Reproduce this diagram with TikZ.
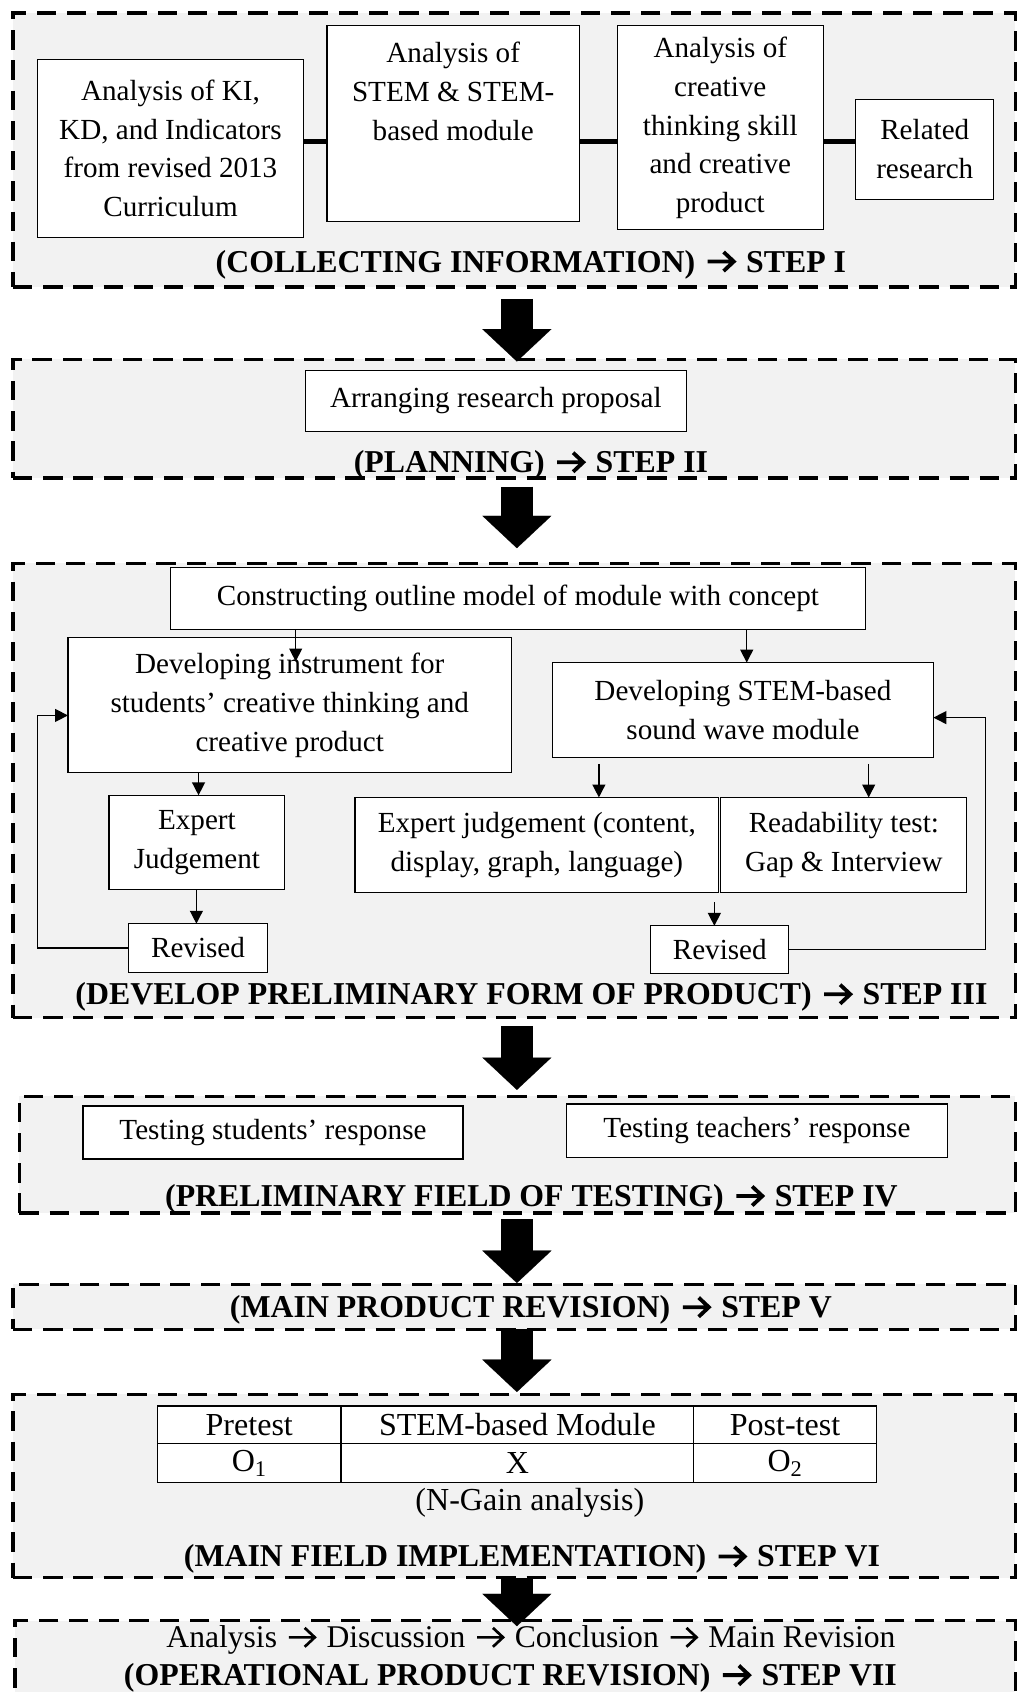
\documentclass[tikz,border=0pt]{standalone}
\usepackage{fontspec}
\setmainfont{Liberation Serif}
\usetikzlibrary{arrows.meta}
\definecolor{stagebg}{HTML}{F2F2F2}
\newcommand{\myarr}[1][0.085]{\hspace{0.08em}\tikz[baseline=0pt,x=1em,y=1em,line cap=butt,line join=miter]{\draw[line width=#1em] (0,0.33) -- (0.8,0.33) (0.5,0.63) -- (0.82,0.33) -- (0.5,0.03);}\hspace{0.08em}}
\newcommand{\myarrb}{\myarr[0.12]}
\begin{document}
\begin{tikzpicture}[x=1pt,y=-1pt,
  font=\fontsize{27}{36}\selectfont,
  stage/.style={draw=black, fill=stagebg, line width=3pt, dash pattern=on 18pt off 10pt, outer sep=0pt, inner sep=0pt},
  box/.style={draw=black, fill=white, line width=1.1pt, align=center, inner sep=0pt, outer sep=0pt},
  lbl/.style={font=\fontsize{29.5}{36}\selectfont\bfseries, inner sep=0pt},
  txt/.style={align=center, inner sep=0pt},
  bigtxt/.style={font=\fontsize{29.7}{36}\selectfont},
  conn/.style={line width=1.3pt, -{Triangle[length=12pt,width=12pt]}},
  fbarrow/.style={line width=1.3pt, -{Triangle[length=12pt,width=12pt]}},
  link/.style={line width=4.5pt},
  big/.style={line width=30pt, -{Triangle[length=30pt,width=64pt,line width=0.1pt]}},
]
\useasboundingbox (0,0) rectangle (945,1568);
\clip (0,0) rectangle (945,1568);
\fill[white] (0,0) rectangle (945,1568);

% ---------- stages ----------
\node[stage, minimum width=929pt, minimum height=254pt] (S1) at (476.5,139) {};
\node[stage, minimum width=929pt, minimum height=110pt] (S2) at (476.5,388) {};
\node[stage, minimum width=929pt, minimum height=421pt] (S3) at (476.5,732.5) {};
\node[stage, minimum width=923pt, minimum height=108pt] (S4) at (479.5,1070) {};
\node[stage, minimum width=929pt, minimum height=42pt] (S5) at (476.5,1211) {};
\node[stage, minimum width=929pt, minimum height=170pt] (S6) at (476.5,1377) {};
\node[stage, minimum width=927pt, minimum height=118pt] (S7) at (477.5,1561) {};

% ---------- step I ----------
\node[box, minimum width=246pt, minimum height=165pt] (A) at (158,137.5) {Analysis of KI,\\KD, and Indicators\\from revised 2013\\Curriculum};
\node[box, minimum width=234pt, minimum height=181pt] (B) at (420,114.5) {};
\node[txt] (Btext) at (420,85) {Analysis of\\STEM \& STEM-\\based module};
\node[box, minimum width=191pt, minimum height=189pt] (C) at (667.5,118.5) {Analysis of\\creative\\thinking skill\\and creative\\product};
\node[box, minimum width=128pt, minimum height=93pt] (D) at (857,138.5) {Related\\research};
\coordinate (lk) at (0,131);
\draw[link] (A.east |- lk) -- (B.west |- lk);
\draw[link] (B.east |- lk) -- (C.west |- lk);
\draw[link] (C.east |- lk) -- (D.west |- lk);
\node[lbl] (L1) at (492,245) {(COLLECTING INFORMATION) \myarrb{} STEP I};

% ---------- step II ----------
\node[box, minimum width=353pt, minimum height=57pt] (R) at (459.5,371.5) {Arranging research proposal};
\node[lbl] (L2) at (492,431) {(PLANNING) \myarrb{} STEP II};

% ---------- step III ----------
\node[box, minimum width=644pt, minimum height=57pt] (Cons) at (480,554.5) {Constructing outline model of module with concept};
\node[box, minimum width=411pt, minimum height=125pt] (DevI) at (268.5,653.5) {Developing instrument for\\students’ creative thinking and\\creative product};
\node[box, minimum width=353pt, minimum height=88pt] (DevS) at (688.5,658) {Developing STEM-based\\sound wave module};
\node[box, minimum width=163pt, minimum height=87pt] (ExpJ) at (182.5,780.5) {Expert\\Judgement};
\node[box, minimum width=337pt, minimum height=88pt] (ExpJ2) at (497.5,783) {Expert judgement (content,\\display, graph, language)};
\node[box, minimum width=228pt, minimum height=88pt] (Read) at (782,783) {Readability test:\\Gap \& Interview};
\node[box, minimum width=129pt, minimum height=45pt] (Rev1) at (183.5,878.5) {Revised};
\node[box, minimum width=128pt, minimum height=44pt] (Rev2) at (667,880) {Revised};
\node[lbl] (L3) at (492.5,924) {(DEVELOP PRELIMINARY FORM OF PRODUCT) \myarrb{} STEP III};

\coordinate (c1) at (274,613);
\draw[conn] (Cons.south -| c1) -- (c1);
\draw[conn] (Cons.south -| 692,0) -- (DevS.north -| 692,0);
\draw[conn] (DevI.south -| 184,0) -- (ExpJ.north -| 184,0);
\draw[conn] (ExpJ.south -| 182,0) -- (Rev1.north -| 182,0);
\coordinate (c2) at (555,708);
\draw[conn] (c2) -- (ExpJ2.north -| c2);
\coordinate (c3) at (805,708);
\draw[conn] (c3) -- (Read.north -| c3);
\coordinate (c4) at (662,836);
\draw[conn] (c4) -- (Rev2.north -| c4);
\coordinate (fbL) at (35,663);
\draw[fbarrow] (Rev1.west) -| (fbL) -- (DevI.west |- fbL);
\coordinate (fbR) at (913,665);
\draw[fbarrow] (Rev2.east) -| (fbR) -- (DevS.east |- fbR);

% ---------- step IV ----------
\node[box, minimum width=352pt, minimum height=49pt] (TS) at (253,1049.5) {Testing students’ response};
\node[box, minimum width=353pt, minimum height=50pt] (TT) at (701.5,1048) {Testing teachers’ response};
\node[lbl] (L4) at (492.5,1111) {(PRELIMINARY FIELD OF TESTING) \myarrb{} STEP IV};

% ---------- step V ----------
\node[lbl] (L5) at (492,1214) {(MAIN PRODUCT REVISION) \myarrb{} STEP V};

% ---------- step VI ----------
\node[box, bigtxt, minimum width=170pt, minimum height=35pt] (p1) at (231,1320.5) {Pretest};
\node[box, bigtxt, minimum width=327pt, minimum height=35pt] (p2) at (479.5,1320.5) {STEM-based Module};
\node[box, bigtxt, minimum width=169pt, minimum height=35pt] (p3) at (727.5,1320.5) {Post-test};
\node[box, bigtxt, minimum width=170pt, minimum height=36pt] (q1) at (231,1356) {O\textsubscript{1}};
\node[box, bigtxt, minimum width=327pt, minimum height=36pt] (q2) at (479.5,1356) {X};
\node[box, bigtxt, minimum width=169pt, minimum height=36pt] (q3) at (727.5,1356) {O\textsubscript{2}};
\node[txt, bigtxt] (NG) at (491,1393) {(N-Gain analysis)};
\node[lbl] (L6) at (493,1445) {(MAIN FIELD IMPLEMENTATION) \myarrb{} STEP VI};

% ---------- step VII ----------
\node[txt, font=\fontsize{29.3}{36}\selectfont] (ADC) at (492,1520) {Analysis \myarr{} Discussion \myarr{} Conclusion \myarr{} Main Revision};
\node[lbl] (L7) at (473,1555) {(OPERATIONAL PRODUCT REVISION) \myarrb{} STEP VII};

% ---------- big arrows ----------
\draw[big, shorten <=11pt, shorten >=-2pt] (S1.south -| 479,0) -- (S2.north -| 479,0);
\draw[big, shorten <=8pt, shorten >=14pt] (S2.south -| 479,0) -- (S3.north -| 479,0);
\draw[big, shorten <=8pt, shorten >=6pt] (S3.south -| 479,0) -- (S4.north -| 479,0);
\draw[big, shorten <=6pt, shorten >=1pt] (S4.south -| 479,0) -- (S5.north -| 479,0);
\draw[big, shorten <=0pt, shorten >=2pt] (S5.south -| 479,0) -- (S6.north -| 479,0);
\draw[big, shorten <=0pt, shorten >=-5pt] (S6.south -| 479,0) -- (S7.north -| 479,0);
\end{tikzpicture}
\end{document}
